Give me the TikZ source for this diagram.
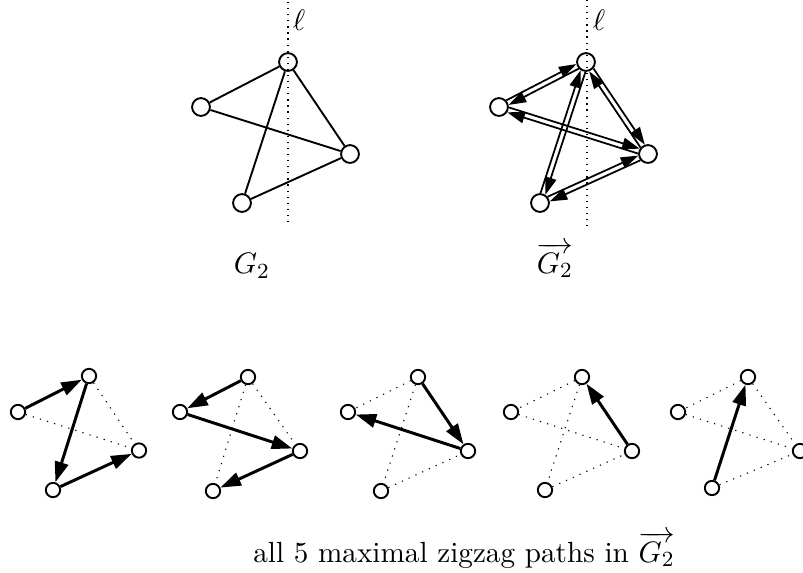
\documentclass[tikz,border=0pt]{standalone}
\usetikzlibrary{arrows.meta,calc}
\usepackage{amsmath}

\begin{document}
\begin{tikzpicture}[
  x=0.37pt, y=-0.37pt,
  every node/.style={font=\fontsize{10.8pt}{13pt}\selectfont},
  vtx/.style={circle, draw, fill=white, line width=0.7pt,
              inner sep=0pt, minimum size=6.6pt},
  svtx/.style={circle, draw, fill=white, line width=0.7pt,
               inner sep=0pt, minimum size=5.3pt},
  edge/.style={line width=0.7pt},
  darc/.style={line width=0.65pt, -{Triangle[length=6.5pt,width=4.2pt]},
               shorten <=3.5pt, shorten >=3.5pt},
  zarc/.style={line width=1.1pt, -{Triangle[length=7.6pt,width=5pt]}},
  ghost/.style={line width=0.4pt, dash pattern=on 0.45pt off 2.3pt},
  axis/.style={line width=0.45pt, dash pattern=on 0.45pt off 1.8pt}
]
\useasboundingbox (0,0) rectangle (803,572);

% undirected G_2
\node[vtx] (t) at (288,62) {};
\node[vtx] (l) at (201,107) {};
\node[vtx] (r) at (350,154) {};
\node[vtx] (b) at (242,203) {};
\draw[edge] (t) -- (l);
\draw[edge] (t) -- (r);
\draw[edge] (t) -- (b);
\draw[edge] (l) -- (r);
\draw[edge] (b) -- (r);
\coordinate (ltop) at (288,2);
\coordinate (lbot) at (288,224);
\draw[axis] (ltop) -- (lbot);
\node (lname) at (299,20) {$\ell$};
\node (gname) at (252,266) {$G_2$};

% directed G_2, both orientations of every edge
\node[vtx] (dt) at (586,62) {};
\node[vtx] (dl) at (499,107) {};
\node[vtx] (dr) at (648,154) {};
\node[vtx] (db) at (540,203) {};
\draw[darc] ($(dl)!0.95pt!90:(dt)$) -- ($(dt)!0.95pt!-90:(dl)$);
\draw[darc] ($(dt)!0.95pt!90:(dl)$) -- ($(dl)!0.95pt!-90:(dt)$);
\draw[darc] ($(dt)!0.95pt!90:(dr)$) -- ($(dr)!0.95pt!-90:(dt)$);
\draw[darc] ($(dr)!0.95pt!90:(dt)$) -- ($(dt)!0.95pt!-90:(dr)$);
\draw[darc] ($(dt)!0.95pt!90:(db)$) -- ($(db)!0.95pt!-90:(dt)$);
\draw[darc] ($(db)!0.95pt!90:(dt)$) -- ($(dt)!0.95pt!-90:(db)$);
\draw[darc] ($(dl)!0.95pt!90:(dr)$) -- ($(dr)!0.95pt!-90:(dl)$);
\draw[darc] ($(dr)!0.95pt!90:(dl)$) -- ($(dl)!0.95pt!-90:(dr)$);
\draw[darc] ($(db)!0.95pt!90:(dr)$) -- ($(dr)!0.95pt!-90:(db)$);
\draw[darc] ($(dr)!0.95pt!90:(db)$) -- ($(db)!0.95pt!-90:(dr)$);
\coordinate (dltop) at (587,0);
\coordinate (dlbot) at (587,228);
\draw[axis] (dltop) -- (dlbot);
\node (dlname) at (599,20) {$\ell$};
\node (dgname) at (555,260) {$\overrightarrow{G_2}$};

% the five maximal zigzag paths
\begin{scope}[shift={(89,376)}]
  \node[svtx] (t1) at (0,0) {};
  \node[svtx] (l1) at (-71,36) {};
  \node[svtx] (r1) at (50,74.5) {};
  \node[svtx] (b1) at (-36,114) {};
  \draw[ghost] (t1) -- (r1);
  \draw[ghost] (l1) -- (r1);
  \draw[zarc] (l1) -- (t1);
  \draw[zarc] (t1) -- (b1);
  \draw[zarc] (b1) -- (r1);
\end{scope}

\begin{scope}[shift={(248,377)}]
  \node[svtx] (t2) at (0,0) {};
  \node[svtx] (l2) at (-68,35) {};
  \node[svtx] (r2) at (52,74) {};
  \node[svtx] (b2) at (-35,114) {};
  \draw[ghost] (t2) -- (r2);
  \draw[ghost] (t2) -- (b2);
  \draw[zarc] (t2) -- (l2);
  \draw[zarc] (l2) -- (r2);
  \draw[zarc] (r2) -- (b2);
\end{scope}

\begin{scope}[shift={(418,377)}]
  \node[svtx] (t3) at (0,0) {};
  \node[svtx] (l3) at (-70,35) {};
  \node[svtx] (r3) at (50,74) {};
  \node[svtx] (b3) at (-37,114) {};
  \draw[ghost] (t3) -- (l3);
  \draw[ghost] (t3) -- (b3);
  \draw[ghost] (b3) -- (r3);
  \draw[zarc] (t3) -- (r3);
  \draw[zarc] (r3) -- (l3);
\end{scope}

\begin{scope}[shift={(582,377)}]
  \node[svtx] (t4) at (0,0) {};
  \node[svtx] (l4) at (-71,35) {};
  \node[svtx] (r4) at (50,74) {};
  \node[svtx] (b4) at (-37,113) {};
  \draw[ghost] (t4) -- (l4);
  \draw[ghost] (t4) -- (b4);
  \draw[ghost] (l4) -- (r4);
  \draw[ghost] (b4) -- (r4);
  \draw[zarc] (r4) -- (t4);
\end{scope}

\begin{scope}[shift={(748,377)}]
  \node[svtx] (t5) at (0,0) {};
  \node[svtx] (l5) at (-70,35) {};
  \node[svtx] (r5) at (52,74) {};
  \node[svtx] (b5) at (-36,111) {};
  \draw[ghost] (t5) -- (l5);
  \draw[ghost] (t5) -- (r5);
  \draw[ghost] (l5) -- (r5);
  \draw[ghost] (b5) -- (r5);
  \draw[zarc] (b5) -- (t5);
\end{scope}

\node (caption) at (464,550) {all 5 maximal zigzag paths in $\overrightarrow{G_2}$};

\end{tikzpicture}
\end{document}
